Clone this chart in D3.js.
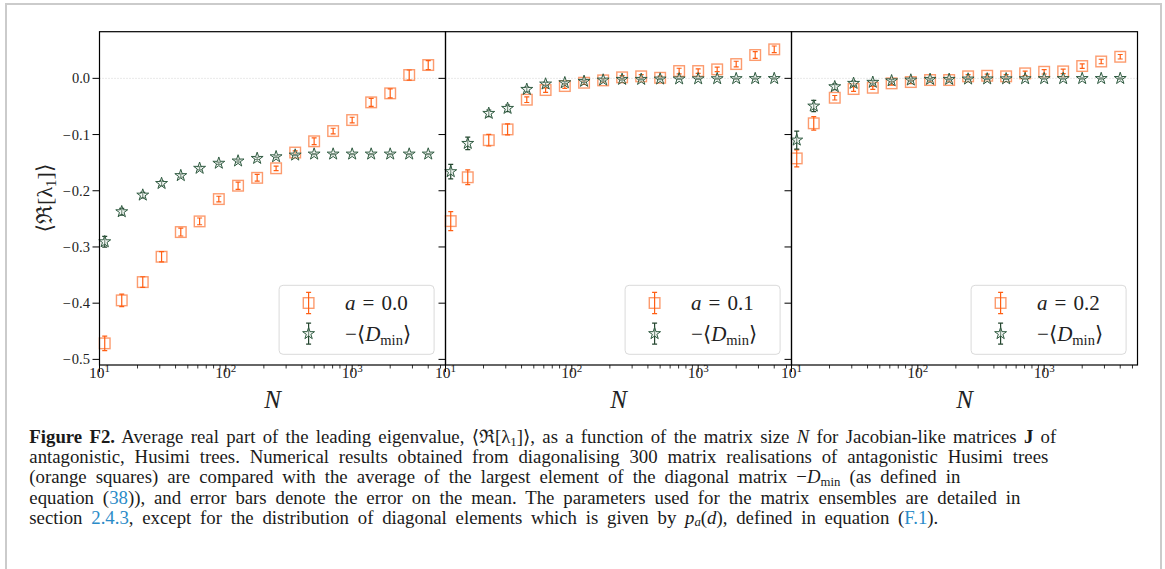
<!DOCTYPE html>
<html>
<head>
<meta charset="utf-8">
<script src="https://cdn.jsdelivr.net/npm/d3@7"></script>
<style>
    body { margin: 0; background: #fff; }
    svg { display: block; }
</style>
</head>
<body>
<svg id="fig" width="1165" height="569"></svg>
<script>
'use strict';

// matrix sizes N (same for all three panels)
var sizesN = [11, 15, 22, 31, 44, 62, 88, 125, 177, 250, 354, 500, 707, 1000, 1414, 2000, 2828, 4000];

var aLabels = ['0.0', '0.1', '0.2'];

// <Re[lambda_1]> (orange squares) and error on the mean
var lambdaA0 = [-0.4715, -0.395, -0.3625, -0.3174, -0.2735, -0.2545, -0.2148, -0.191, -0.177, -0.160, -0.132, -0.112, -0.0938, -0.0742, -0.0427, -0.0267, 0.0059, 0.0237];
var lambdaErrA0 = [0.013, 0.011, 0.0095, 0.009, 0.007, 0.006, 0.005, 0.0065, 0.006, 0.004, 0.003, 0.006, 0.005, 0.005, 0.007, 0.008, 0.009, 0.008];
var lambdaA1 = [-0.254, -0.176, -0.110, -0.0908, -0.038, -0.0208, -0.0137, -0.0078, -0.0036, 0.0018, 0.0036, 0.001, 0.013, 0.013, 0.016, 0.0254, 0.0415, 0.0516];
var lambdaErrA1 = [0.017, 0.013, 0.0104, 0.0098, 0.005, 0.004, 0.004, 0.003, 0.003, 0.003, 0.003, 0.003, 0.005, 0.004, 0.004, 0.005, 0.006, 0.006];
var lambdaA2 = [-0.1424, -0.080, -0.0345, -0.019, -0.0167, -0.0089, -0.0066, -0.003, -0.003, 0.0036, 0.0046, 0.0036, 0.0089, 0.0117, 0.0124, 0.0219, 0.030, 0.0384];
var lambdaErrA2 = [0.015, 0.012, 0.004, 0.004, 0.003, 0.003, 0.003, 0.003, 0.003, 0.003, 0.003, 0.003, 0.004, 0.004, 0.004, 0.004, 0.004, 0.004];

// -<D_min> (green stars) and error on the mean
var dminA0 = [-0.2907, -0.2373, -0.2077, -0.187, -0.173, -0.160, -0.151, -0.147, -0.1424, -0.1395, -0.1365, -0.1347, -0.1347, -0.1347, -0.1347, -0.1347, -0.1347, -0.1347];
var dminErrA0 = [0.0095, 0.006, 0.005, 0.004, 0.003, 0.003, 0.002, 0.002, 0.002, 0.0015, 0.001, 0.001, 0.001, 0.001, 0.001, 0.001, 0.001, 0.001];
var dminA1 = [-0.166, -0.1157, -0.0623, -0.0534, -0.0196, -0.0101, -0.0078, -0.0053, -0.003, -0.0018, -0.0018, -0.0012, -0.001, -0.0008, -0.0006, -0.0005, -0.0004, -0.0003];
var dminErrA1 = [0.013, 0.011, 0.006, 0.006, 0.004, 0.003, 0.002, 0.002, 0.002, 0.0015, 0.001, 0.001, 0.001, 0.001, 0.001, 0.001, 0.001, 0.001];
var dminA2 = [-0.1098, -0.0493, -0.0149, -0.0089, -0.007, -0.0043, -0.003, -0.0018, -0.0018, -0.0012, -0.001, -0.0008, -0.0006, -0.0005, -0.0004, -0.0003, -0.0003, -0.0002];
var dminErrA2 = [0.016, 0.010, 0.005, 0.004, 0.003, 0.002, 0.002, 0.0015, 0.001, 0.001, 0.001, 0.001, 0.001, 0.001, 0.001, 0.001, 0.001, 0.001];

var yTicks = [0.0, -0.1, -0.2, -0.3, -0.4, -0.5];
var xTicks = [10, 100, 1000];

var panels = [
    { a: aLabels[0], lambda: lambdaA0, lambdaErr: lambdaErrA0, dmin: dminA0, dminErr: dminErrA0 },
    { a: aLabels[1], lambda: lambdaA1, lambdaErr: lambdaErrA1, dmin: dminA1, dminErr: dminErrA1 },
    { a: aLabels[2], lambda: lambdaA2, lambdaErr: lambdaErrA2, dmin: dminA2, dminErr: dminErrA2 }
];

var config = {
    left: 99.5,
    top: 31.7,
    panelWidth: 346,
    height: 333.3,
    orange: '#ff5f14',
    orangeEdge: '#fb8a55',
    green: '#24462f',
    font: '"Liberation Serif", "DejaVu Serif", serif'
};

var svg = d3.select('#fig');

// outer page frame
svg.append('path')
    .attr('d', 'M6,569V4H1161V569')
    .attr('fill', 'none')
    .attr('stroke', '#cbcbcb')
    .attr('stroke-width', 2);

var x = d3.scaleLog().domain([10, 5480]).range([0, config.panelWidth]);
var y = d3.scaleLinear().domain([-0.51, 0.083]).range([config.height, 0]);
var star = d3.symbol().type(d3.symbolStar).size(44);

var errPath = function errPath(cx, cy, err) {
    return 'M' + cx + ',' + (cy - err) + 'V' + (cy + err) +
        'M' + (cx - 2.5) + ',' + (cy - err) + 'H' + (cx + 2.5) +
        'M' + (cx - 2.5) + ',' + (cy + err) + 'H' + (cx + 2.5);
};

var drawSquare = function drawSquare(g, cx, cy, err) {
    g.append('rect')
        .attr('x', cx - 5.3).attr('y', cy - 5.3)
        .attr('width', 10.6).attr('height', 10.6)
        .attr('fill', 'none')
        .attr('stroke', config.orangeEdge)
        .attr('stroke-opacity', 0.85)
        .attr('stroke-width', 1.4);
    g.append('path')
        .attr('d', errPath(cx, cy, err))
        .attr('stroke', config.orange)
        .attr('stroke-width', 1.2)
        .attr('fill', 'none');
};

var drawStar = function drawStar(g, cx, cy, err) {
    g.append('path')
        .attr('d', errPath(cx, cy, err))
        .attr('stroke', config.green)
        .attr('stroke-width', 1.2)
        .attr('fill', 'none');
    g.append('path')
        .attr('d', star)
        .attr('transform', 'translate(' + cx + ',' + cy + ')')
        .attr('fill', '#e4ede6')
        .attr('fill-opacity', 0.45)
        .attr('stroke', '#2f5a40')
        .attr('stroke-width', 1);
};

panels.forEach(function (p, k) {

    var g = svg.append('g')
        .attr('transform', 'translate(' + (config.left + k * config.panelWidth) + ',' + config.top + ')');

    // dotted zero line
    g.append('line')
        .attr('x1', 0).attr('x2', config.panelWidth)
        .attr('y1', y(0)).attr('y2', y(0))
        .attr('stroke', '#c8c8c8')
        .attr('stroke-width', 0.8)
        .attr('stroke-dasharray', '1,2');

    // x axis: major + minor ticks, outward
    var minor = [];
    [10, 100, 1000].forEach(function (d) {
        for (var m = 2; m < 10; m++) {
            if (d * m <= x.domain()[1]) minor.push(d * m);
        }
    });
    g.selectAll('.minor').data(minor).enter().append('line')
        .attr('x1', function (d) { return x(d); }).attr('x2', function (d) { return x(d); })
        .attr('y1', config.height).attr('y2', config.height + 3.5)
        .attr('stroke', '#000').attr('stroke-width', 0.8);
    g.selectAll('.major').data(xTicks).enter().append('line')
        .attr('x1', function (d) { return x(d); }).attr('x2', function (d) { return x(d); })
        .attr('y1', config.height).attr('y2', config.height + 7)
        .attr('stroke', '#000').attr('stroke-width', 1);

    var xl = g.selectAll('.xlab').data(xTicks).enter().append('text')
        .attr('x', function (d) { return x(d); })
        .attr('y', config.height + 12.8)
        .attr('text-anchor', 'middle')
        .attr('font-family', config.font)
        .attr('font-size', 15.5)
        .attr('fill', '#222');
    xl.append('tspan').text('10');
    xl.append('tspan').attr('font-size', 11).attr('dy', -6)
        .text(function (d) { return String(Math.round(Math.log10(d))); });

    // y ticks (outward) on every panel, labels only on the first
    g.selectAll('.ytick').data(yTicks).enter().append('line')
        .attr('x1', -7).attr('x2', 0)
        .attr('y1', function (d) { return y(d); }).attr('y2', function (d) { return y(d); })
        .attr('stroke', '#000').attr('stroke-width', 1);

    if (k === 0) {
        g.selectAll('.ylab').data(yTicks).enter().append('text')
            .attr('x', -9.5)
            .attr('y', function (d) { return y(d) + 5; })
            .attr('text-anchor', 'end')
            .attr('font-family', config.font)
            .attr('font-size', 14.5)
            .attr('fill', '#222')
            .text(function (d) { return d3.format('.1f')(d).replace('-', '\u2212').replace('\u2212', '\u2212\u200A'); });
    }

    // data: squares first, then stars
    var marks = g.append('g');
    sizesN.forEach(function (n, i) {
        drawSquare(marks, x(n), y(p.lambda[i]), y(p.lambda[i] - p.lambdaErr[i]) - y(p.lambda[i]));
    });
    sizesN.forEach(function (n, i) {
        drawStar(marks, x(n), y(p.dmin[i]), y(p.dmin[i] - p.dminErr[i]) - y(p.dmin[i]));
    });

    // frame
    g.append('rect')
        .attr('width', config.panelWidth).attr('height', config.height)
        .attr('fill', 'none').attr('stroke', '#000').attr('stroke-width', 1.2);

    // x label
    g.append('text')
        .attr('x', config.panelWidth / 2)
        .attr('y', config.height + 43.5)
        .attr('text-anchor', 'middle')
        .attr('font-family', config.font)
        .attr('font-style', 'italic')
        .attr('font-size', 25)
        .attr('fill', '#222')
        .text('N');

    // legend
    var lg = g.append('g')
        .attr('transform', 'translate(' + (config.panelWidth - 166.4) + ',' + (config.height - 79.7) + ')');
    lg.append('rect')
        .attr('width', 155).attr('height', 69).attr('rx', 4)
        .attr('fill', '#fff').attr('fill-opacity', 0.85)
        .attr('stroke', '#dadada').attr('stroke-width', 1);
    drawSquare(lg.append('g'), 29.5, 17.7, 10.7);
    drawStar(lg.append('g'), 29.5, 48.3, 10.5);

    var t1 = lg.append('text')
        .attr('x', 66).attr('y', 24.8)
        .attr('font-family', config.font)
        .attr('font-size', 21)
        .attr('fill', '#222');
    t1.append('tspan').attr('font-style', 'italic').text('a');
    t1.append('tspan').attr('dx', 7).text('=');
    t1.append('tspan').attr('dx', 7).text(p.a);

    var t2 = lg.append('text')
        .attr('x', 66).attr('y', 55.8)
        .attr('font-family', config.font)
        .attr('font-size', 21)
        .attr('fill', '#222');
    t2.append('tspan').text('\u2212\u27E8');
    t2.append('tspan').attr('font-style', 'italic').text('D');
    t2.append('tspan').attr('font-size', 14.5).attr('dy', 4).text('min');
    t2.append('tspan').attr('dy', -4).text('\u27E9');
});

// y label
var yl = svg.append('text')
    .attr('transform', 'translate(52,198) rotate(-90)')
    .attr('text-anchor', 'middle')
    .attr('font-family', config.font)
    .attr('font-size', 22)
    .attr('fill', '#222');
yl.append('tspan').text('\u27E8\u211C[\u03BB');
yl.append('tspan').attr('font-size', 15).attr('dy', 4).text('1');
yl.append('tspan').attr('dy', -4).text(']\u27E9');

// caption
var linkColor = '#2a8bc8';
var captionLines = [
    { width: 1027, parts: [
        { t: 'Figure F2.', b: true }, { t: ' Average real part of the leading eigenvalue, \u27E8\u211C[\u03BB' }, { t: '1', sub: true },
        { t: ']\u27E9, as a function of the matrix size ' }, { t: 'N', i: true },
        { t: ' for Jacobian-like matrices ' }, { t: 'J', b: true }, { t: ' of' }] },
    { width: 1019, parts: [
        { t: 'antagonistic, Husimi trees. Numerical results obtained from diagonalising 300 matrix realisations of antagonistic Husimi trees' }] },
    { width: 931, parts: [
        { t: '(orange squares) are compared with the average of the largest element of the diagonal matrix \u2212' },
        { t: 'D', i: true }, { t: 'min', sub: true }, { t: ' (as defined in' }] },
    { width: 991, parts: [
        { t: 'equation (' }, { t: '38', link: true },
        { t: ')), and error bars denote the error on the mean. The parameters used for the matrix ensembles are detailed in' }] },
    { width: 909, parts: [
        { t: 'section ' }, { t: '2.4.3', link: true },
        { t: ', except for the distribution of diagonal elements which is given by ' },
        { t: 'p', i: true }, { t: 'a', i: true, sub: true }, { t: '(' }, { t: 'd', i: true },
        { t: '), defined in equation (' }, { t: 'F.1', link: true }, { t: ').' }] }
];

// font size from the plain second line (capped), gaps per line take up the rest
var probe = svg.append('text')
    .attr('font-family', config.font).attr('font-size', 17.5)
    .text(captionLines[1].parts[0].t);
var capSize = Math.min(18.8, 17.5 * captionLines[1].width / probe.node().getComputedTextLength());
probe.remove();

captionLines.forEach(function (line, li) {
    var txt = svg.append('text')
        .attr('x', 29.3)
        .attr('y', 443 + li * 20.2)
        .attr('font-family', config.font)
        .attr('font-size', capSize)
        .attr('fill', '#1a1a1a');
    var shifted = false;
    line.parts.forEach(function (part) {
        var ts = txt.append('tspan').text(part.t);
        if (part.b) ts.attr('font-weight', 'bold');
        if (part.i) ts.attr('font-style', 'italic');
        if (part.link) ts.attr('fill', linkColor);
        if (part.sub) {
            ts.attr('font-size', capSize * 0.68);
            if (!shifted) { ts.attr('dy', 2.5); shifted = true; }
        } else if (shifted) {
            ts.attr('dy', -2.5);
            shifted = false;
        }
    });
    var natural = txt.node().getComputedTextLength();
    var spaces = line.parts.map(function (d) { return d.t; }).join('').split(' ').length - 1;
    if (spaces > 0) txt.attr('word-spacing', Math.max(0, (line.width - natural) / spaces));
});
</script>
</body>
</html>
